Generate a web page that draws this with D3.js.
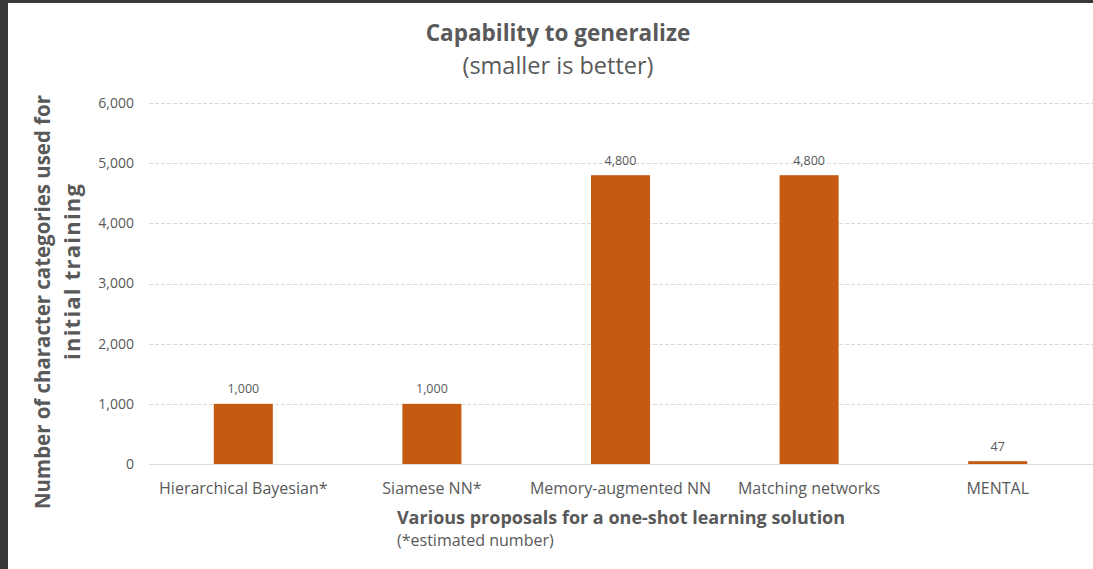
<!DOCTYPE html>
<html>
<head>
<meta charset="utf-8">
<script src="https://cdn.jsdelivr.net/npm/d3@7"></script>
<style>
  html, body { margin: 0; padding: 0; background: #ffffff; }
  svg { display: block; font-family: "Open Sans", "Noto Sans", sans-serif; }
</style>
</head>
<body>
<svg id="chart" width="1093" height="569"></svg>
<script>
// Number of character categories each one-shot learning approach trains on
const categories = ["Hierarchical Bayesian*", "Siamese NN*", "Memory-augmented NN", "Matching networks", "MENTAL"];
const values = [1000, 1000, 4800, 4800, 47];
const yTicks = [0, 1000, 2000, 3000, 4000, 5000, 6000];

const W = 1093, H = 569;
const plot = { left: 149, right: 1092, top: 103, bottom: 464 };
const ink = "#595959";

const svg = d3.select("#chart");
svg.append("rect").attr("width", W).attr("height", H).attr("fill", "#ffffff");

const x = d3.scaleBand().domain(categories).range([plot.left, plot.right]).paddingInner(0.687).paddingOuter(0.3435);
const y = d3.scaleLinear().domain([0, 6000]).range([plot.bottom, plot.top]);
const fmt = d3.format(",");

// horizontal dashed gridlines
svg.append("g").selectAll("line").data(yTicks.filter(d => d > 0)).join("line")
  .attr("x1", plot.left).attr("x2", W)
  .attr("y1", d => Math.round(y(d)) + 0.5).attr("y2", d => Math.round(y(d)) + 0.5)
  .attr("stroke", "#d9d9d9").attr("stroke-width", 1).attr("stroke-dasharray", "4,2");

// y axis tick labels
const yAxis = d3.axisLeft(y).tickValues(yTicks).tickFormat(fmt).tickSize(0).tickPadding(0);
const ga = svg.append("g").attr("transform", `translate(134,0)`).call(yAxis);
ga.select(".domain").remove();
ga.selectAll("text").attr("fill", ink).style("font-size", "14px")
  .style("font-family", "'Open Sans', sans-serif");

// bars
svg.append("g").selectAll("rect").data(values).join("rect")
  .attr("x", (d, i) => x(categories[i]))
  .attr("width", x.bandwidth())
  .attr("y", d => y(d))
  .attr("height", d => y(0) - y(d))
  .attr("fill", "#c55a11");

// baseline
svg.append("line").attr("x1", plot.left).attr("x2", W)
  .attr("y1", y(0) + 0.5).attr("y2", y(0) + 0.5)
  .attr("stroke", "#d9d9d9").attr("stroke-width", 1.2);

// value labels
svg.append("g").selectAll("text").data(values).join("text")
  .attr("x", (d, i) => x(categories[i]) + x.bandwidth() / 2)
  .attr("y", d => y(d) - 10.5)
  .attr("text-anchor", "middle")
  .attr("fill", ink).style("font-size", "12.5px")
  .text(d => fmt(d));

// category labels
const xAxis = d3.axisBottom(x).tickSize(0).tickPadding(0);
const gx = svg.append("g").attr("transform", `translate(0,${plot.bottom})`).call(xAxis);
gx.select(".domain").remove();
gx.selectAll("text").attr("fill", ink).attr("dy", null).attr("y", 30)
  .style("font-size", "16px").style("font-family", "'Open Sans', sans-serif");

// titles
svg.append("text").attr("x", 558).attr("y", 41).attr("text-anchor", "middle")
  .attr("fill", ink).style("font-size", "22.5px").style("font-weight", "bold")
  .text("Capability to generalize");
svg.append("text").attr("x", 558).attr("y", 74).attr("text-anchor", "middle")
  .attr("fill", ink).style("font-size", "23.5px")
  .text("(smaller is better)");

svg.append("text").attr("x", 621).attr("y", 524).attr("text-anchor", "middle")
  .attr("fill", ink).style("font-size", "18px").style("font-weight", "bold")
  .text("Various proposals for a one-shot learning solution");
svg.append("text").attr("x", 397).attr("y", 546)
  .attr("fill", ink).style("font-size", "16px")
  .text("(*estimated number)");

// y axis title (two lines)
svg.append("text").attr("transform", "translate(50,302) rotate(-90)").attr("text-anchor", "middle")
  .attr("fill", ink).style("font-size", "20.5px").style("font-weight", "bold")
  .attr("textLength", 414).attr("lengthAdjust", "spacing")
  .text("Number of character categories used for");
svg.append("text").attr("transform", "translate(80,272) rotate(-90)").attr("text-anchor", "middle")
  .attr("fill", ink).style("font-size", "22px").style("font-weight", "bold")
  .attr("textLength", 176).attr("lengthAdjust", "spacing")
  .text("initial training");

// dark window frame along the left and top edges
svg.append("rect").attr("x", 0).attr("y", 0).attr("width", 8).attr("height", H).attr("fill", "#383838");
svg.append("rect").attr("x", 0).attr("y", 0).attr("width", W).attr("height", 3).attr("fill", "#383838");
</script>
</body>
</html>
